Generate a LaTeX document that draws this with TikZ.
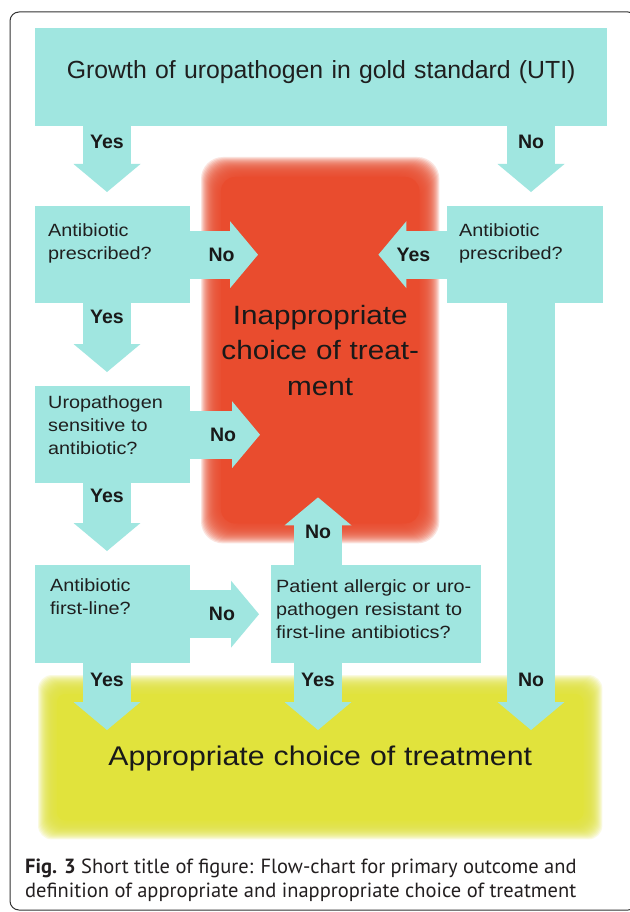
\documentclass[tikz,border=0pt]{standalone}
\usepackage{fontspec}
\setmainfont{Liberation Sans}
\newfontfamily\chartfont[FakeStretch=1.12]{Liberation Sans}
\newfontfamily\capfont{PT Sans}
\usetikzlibrary{arrows.meta,backgrounds}

\definecolor{flowteal}{RGB}{160,230,224}
\definecolor{badred}{RGB}{233,76,46}
\definecolor{goodyellow}{RGB}{225,227,60}
\definecolor{captext}{RGB}{35,31,32}

\tikzset{
  qbox/.style={fill=flowteal, anchor=north west, align=left, inner ysep=0pt,
    text=black!88, font=\chartfont\fontsize{17.7}{23}\selectfont},
  flow/.style={draw=flowteal, line width=48pt,
    -{Triangle[length=28pt,width=67pt,line width=0pt]}},
  ans/.style={font=\bfseries\fontsize{19.5}{20}\selectfont, text=black!90, inner sep=0pt},
  outcome/.style={anchor=north west, inner sep=0pt, align=center, text=black!90},
  glow/.style={opacity=0.15, rounded corners=22pt},
}

\begin{document}
\begin{tikzpicture}[x=1pt,y=-1pt]
\useasboundingbox (0,0) rectangle (629,912);

% frame
\draw[black!80, line width=1pt, rounded corners=9pt] (10,12) rectangle (637,910);

% boxes
\node[qbox, align=center, inner xsep=0pt, text width=572pt, text height=50pt, text depth=48pt,
  font=\fontsize{24.8}{30}\selectfont] (top) at (35,28) {Growth of uropathogen in gold standard (UTI)};
\node[qbox, inner xsep=13pt, text width=129pt, text height=30pt, text depth=67pt] (box1) at (35,206)
  {Antibiotic\\prescribed?};
\node[qbox, inner xsep=12pt, text width=132pt, text height=30pt, text depth=67pt] (box1r) at (447,206)
  {Antibiotic\\prescribed?};
\node[qbox, inner xsep=13pt, text width=129pt, text height=22pt, text depth=75pt] (box2) at (35,386)
  {Uropathogen\\sensitive to\\antibiotic?};
\node[qbox, inner xsep=15pt, text width=125pt, text height=26pt, text depth=72pt] (box3) at (35,565)
  {Antibiotic\\first-line?};
\node[qbox, inner xsep=5pt, text width=200pt, text height=27pt, text depth=71pt] (box4) at (271,565)
  {Patient allergic or uro-\\pathogen resistant to\\first-line antibiotics?};

% outcomes (soft edged, filled on the background layer)
\node[outcome, text width=212pt, text height=154pt, text depth=206pt,
  font=\chartfont\fontsize{26.5}{35.5}\selectfont] (bad) at (214,170)
  {Inappropriate\\choice of treat-\\ment};
\node[outcome, text width=540pt, text height=78pt, text depth=62pt,
  font=\chartfont\fontsize{27}{32}\selectfont] (good) at (50,687)
  {Appropriate choice of treatment};

\begin{pgfonlayer}{background}
\fill[white] (0,0) rectangle (629,912);
\foreach \g in {13,12,...,-7}
  \fill[badred, glow] ([shift={(-\g,-\g)}]bad.north west) rectangle ([shift={(\g,\g)}]bad.south east);
\fill[badred, rounded corners=14pt] ([shift={(7,7)}]bad.north west) rectangle ([shift={(-7,-7)}]bad.south east);
\foreach \g in {12,11,...,-7}
  \fill[goodyellow, glow, rounded corners=14pt] ([shift={(-\g,-\g)}]good.north west) rectangle ([shift={(\g,\g)}]good.south east);
\fill[goodyellow, rounded corners=8pt] ([shift={(7,7)}]good.north west) rectangle ([shift={(-7,-7)}]good.south east);
\end{pgfonlayer}

% connectors
\coordinate (uptip) at ([xshift=47pt,yshift=33pt]box4.north west |- bad.south);

\draw[flow] ([xshift=72pt]top.south west) -- ([xshift=72pt,yshift=14pt]box1.north west)
  node[ans,pos=.24] {Yes};
\draw[flow] ([xshift=496pt]top.south west) -- ([xshift=84pt,yshift=14pt]box1r.north west)
  node[ans,pos=.24] {No};
\draw[flow] (box1.east) -- ([xshift=44pt]box1.east -| bad.west) node[ans,pos=.46] {No};
\draw[flow] (box1r.west) -- ([xshift=-48pt]box1r.west -| bad.east) node[ans,pos=.49] {Yes};
\draw[flow] ([xshift=72pt]box1.south west) -- ([xshift=72pt,yshift=14pt]box2.north west)
  node[ans,pos=.2] {Yes};
\draw[flow] (box2.east) -- ([xshift=46pt]box2.east -| bad.west) node[ans,pos=.47] {No};
\draw[flow] ([xshift=72pt]box2.south west) -- ([xshift=72pt,yshift=14pt]box3.north west)
  node[ans,pos=.18] {Yes};
\draw[flow] (box3.east) -- ([xshift=-12pt]box4.west) node[ans,pos=.46] {No};
\draw[flow] ([xshift=47pt]box4.north west) -- (uptip) node[ans,pos=.49] {No};
\draw[flow] ([xshift=72pt]box3.south west) -- ([xshift=72pt,yshift=-43pt]box3.south west |- good.north)
  node[ans,pos=.25] {Yes};
\draw[flow] ([xshift=47pt]box4.south west) -- ([xshift=47pt,yshift=-43pt]box4.south west |- good.north)
  node[ans,pos=.25] {Yes};
\draw[flow] ([xshift=84pt]box1r.south west) -- ([xshift=84pt,yshift=-43pt]box1r.south west |- good.north)
  node[ans,pos=.883] {No};

% caption
\node[anchor=base west, align=left, inner sep=0pt, text=captext,
  font=\capfont\fontsize{20.5}{24}\selectfont] (caption) at (25,897)
  {\textbf{Fig. 3} Short title of figure: Flow-chart for primary outcome and\\
   definition of appropriate and inappropriate choice of treatment};
\end{tikzpicture}
\end{document}
